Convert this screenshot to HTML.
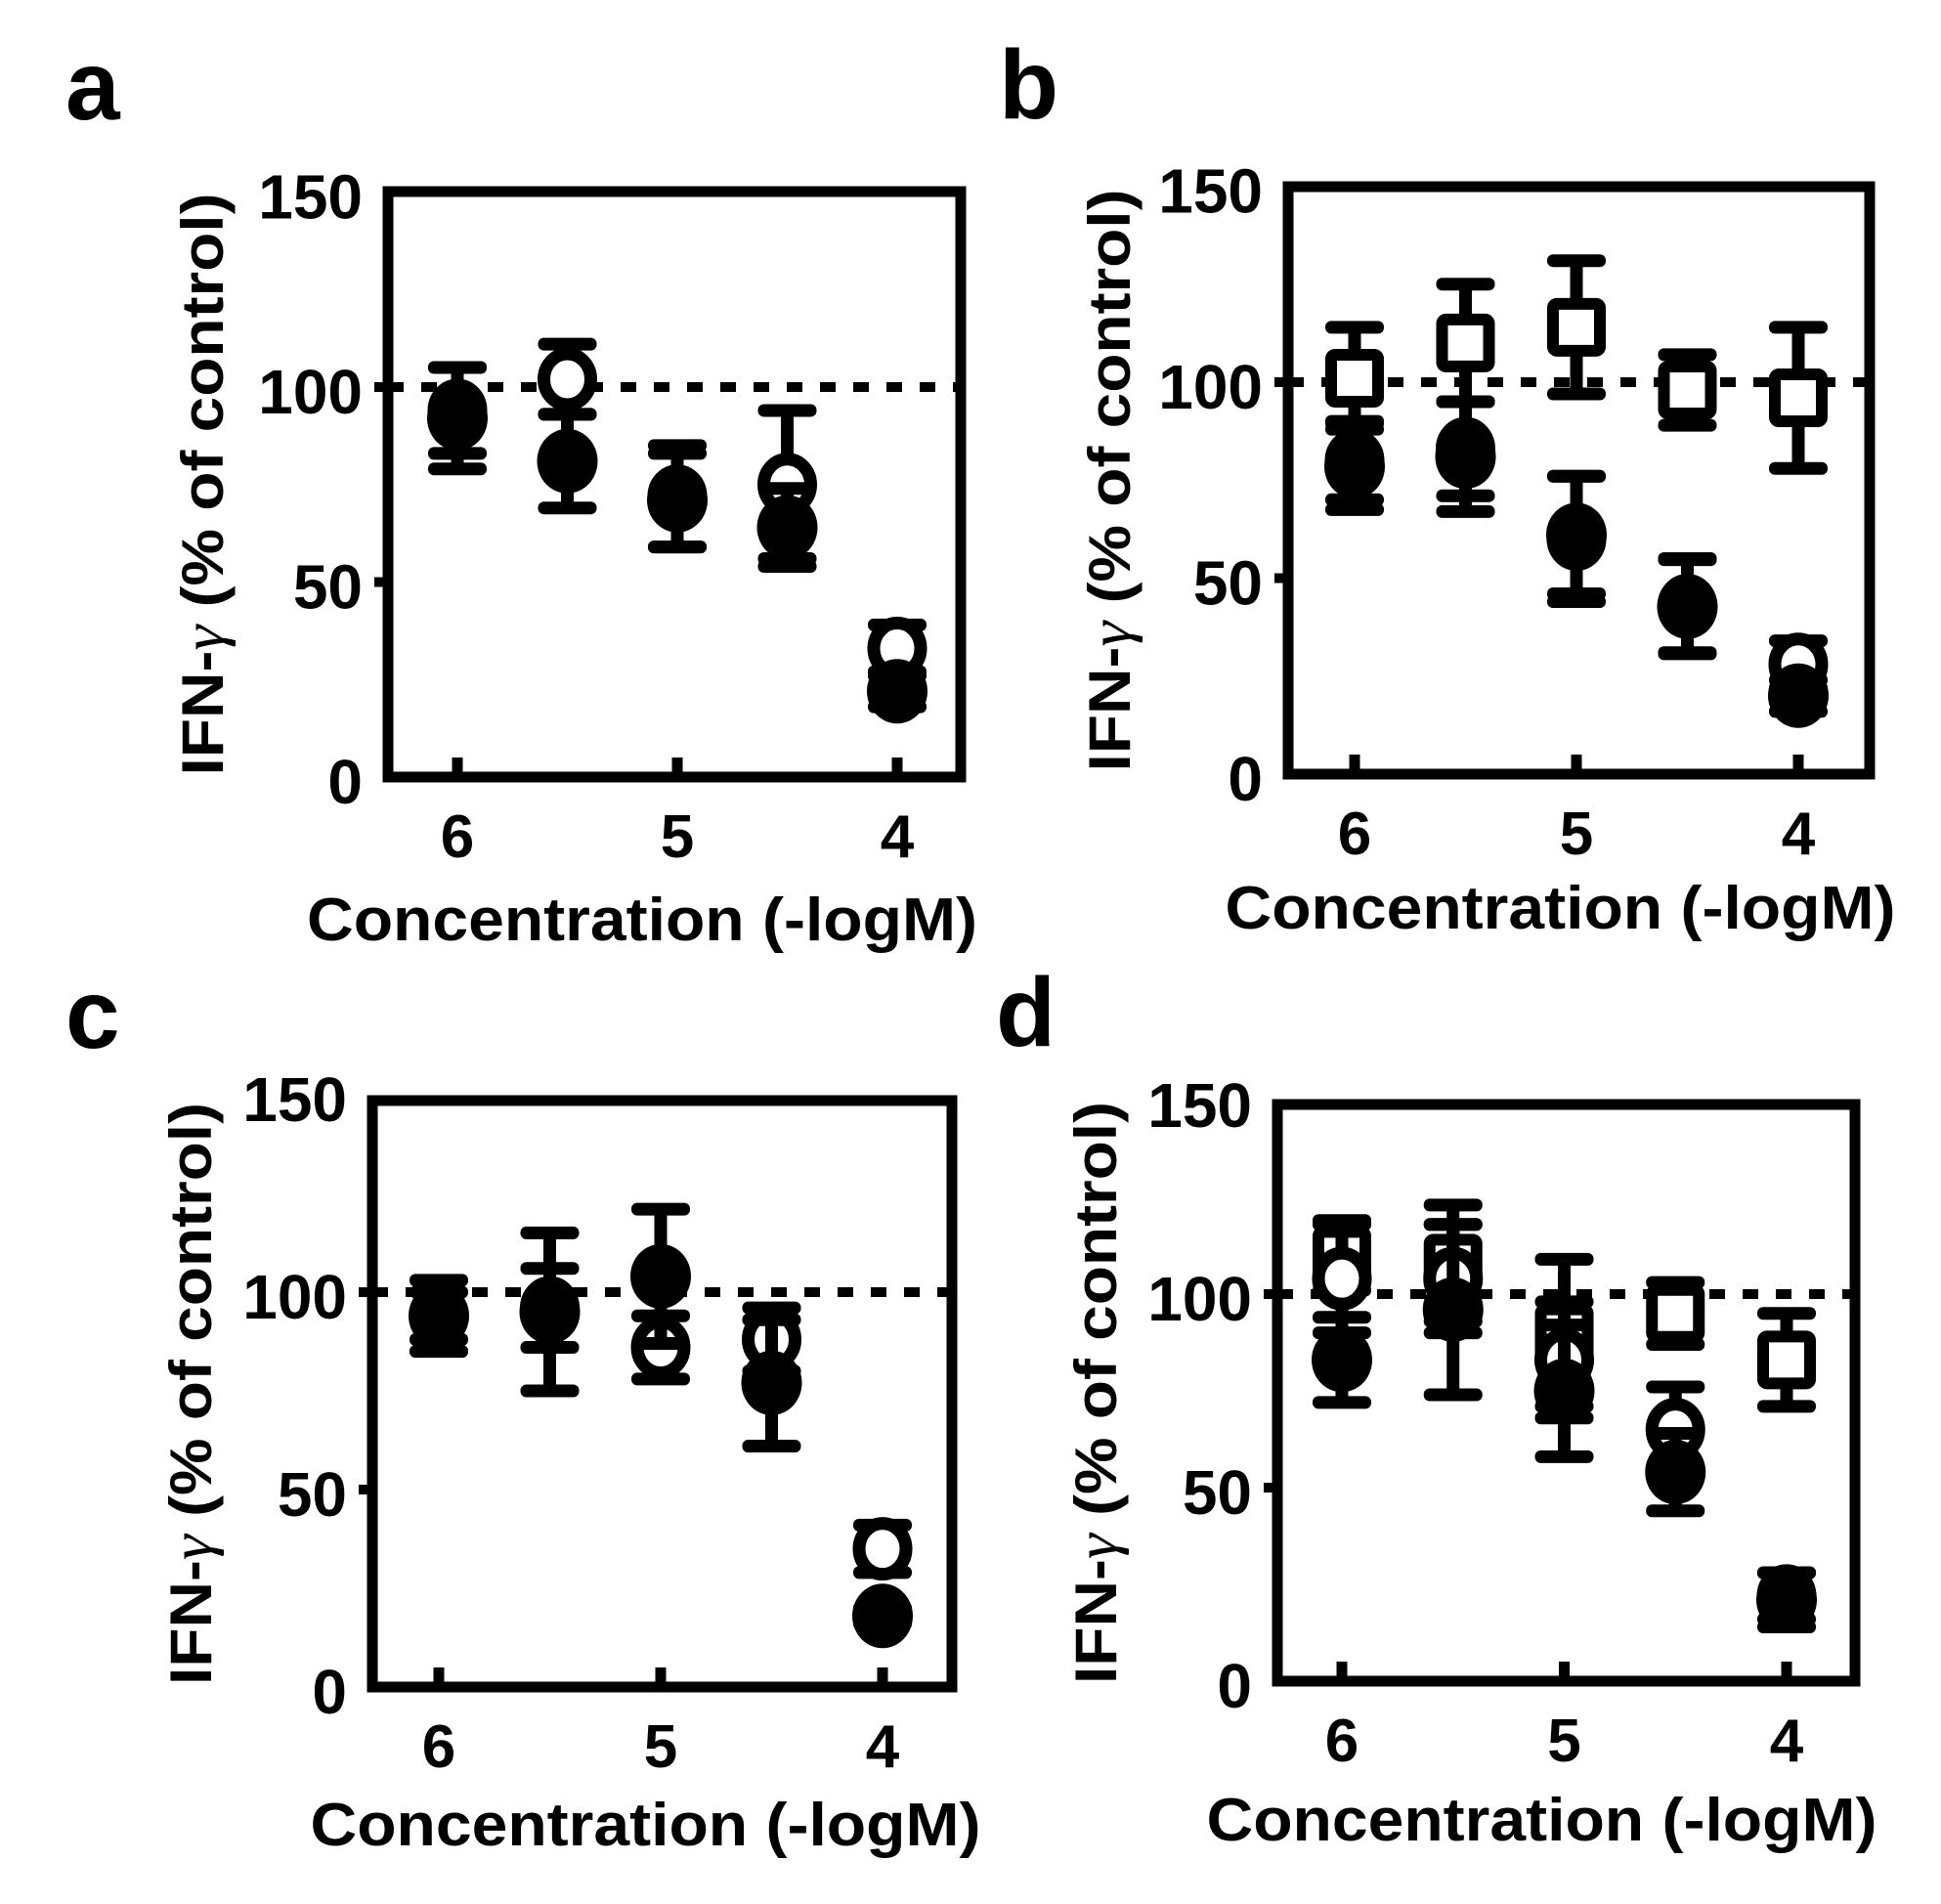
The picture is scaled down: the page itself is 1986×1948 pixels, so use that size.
<!DOCTYPE html>
<html><head><meta charset="utf-8"><style>
html,body{margin:0;padding:0;background:#fff;}
svg{display:block;}
text{font-family:"Liberation Sans",sans-serif;font-weight:bold;fill:#000;}
</style></head><body>
<svg id="fig" width="1986" height="1948" viewBox="0 0 1986 1948" xmlns="http://www.w3.org/2000/svg"></svg>
<script>
const xCats = [6, 5.5, 5, 4.5, 4];
const xTickVals = [6, 5, 4];
const xTickLabels = ["6", "5", "4"];
const yTickVals = [0, 50, 100, 150];
const yTickLabels = ["0", "50", "100", "150"];
const refLine = 100;

const aOpenMean = [94, 102, 72, 75, 33];
const aOpenErr = [11, 9, 13, 19, 6];
const aFilledMean = [92, 81, 71, 64, 22];
const aFilledErr = [13, 12, 12, 10, 4];

const bSquareMean = [101, 110, 114, 98, 96];
const bSquareErr = [13, 15, 17, 9, 18];
const bOpenMean = [80, 83, 60, 43, 28];
const bOpenErr = [10, 12, 16, 12, 6];
const bFilledMean = [78.5, 81, 61, 42.7, 20];
const bFilledErr = [11, 14, 15, 12, 4];

const cOpenMean = [94, 96, 86, 88, 35];
const cOpenErr = [6, 10, 8, 8, 6];
const cFilledMean = [94, 95, 104, 77, 18];
const cFilledErr = [9, 20, 17, 16, 2];

const dSquareMean = [110, 108, 90, 95, 83];
const dSquareErr = [9, 15, 19, 8, 12];
const dOpenMean = [104, 104, 83, 65, 22];
const dOpenErr = [14, 14, 15, 11, 6];
const dFilledMean = [83, 96, 75, 54, 21];
const dFilledErr = [11, 22, 17, 10, 7];

const NS = "http://www.w3.org/2000/svg";
const svg = document.getElementById('fig');
function mk(tag, attrs, parent){
  const e = document.createElementNS(NS, tag);
  for (const k in attrs) e.setAttribute(k, attrs[k]);
  (parent||svg).appendChild(e);
  return e;
}

const panels = [
  {id:'a', L:397, T:196, R:983, y0:795, k:3.99, x6:468, dx:225, lx:67, ly:122, tdx:-33, tdy:167, ydx:-189,
   series:[['open', aOpenMean, aOpenErr], ['filled', aFilledMean, aFilledErr]]},
  {id:'b', L:1318, T:191, R:1913, y0:792, k:4.01, x6:1386, dx:227, lx:1022, ly:121, tdx:-19, tdy:158, ydx:-182,
   series:[['square', bSquareMean, bSquareErr], ['open', bOpenMean, bOpenErr], ['filled', bFilledMean, bFilledErr]]},
  {id:'c', L:381, T:1126, R:974, y0:1726, k:4.04, x6:449, dx:227, lx:67, ly:1072, tdx:-17, tdy:162, ydx:-185,
   series:[['open', cOpenMean, cOpenErr], ['filled', cFilledMean, cFilledErr]]},
  {id:'d', L:1307, T:1130, R:1898, y0:1720, k:3.96, x6:1373, dx:227.5, lx:1019, ly:1070, tdx:-25, tdy:163, ydx:-185,
   series:[['square', dSquareMean, dSquareErr], ['open', dOpenMean, dOpenErr], ['filled', dFilledMean, dFilledErr]]}
];

panels.forEach(p => {
  const g = mk('g', {});
  
  
  const X = v => p.x6 + (6 - v) * p.dx;
  const Y = v => p.y0 - v * p.k;
  const B = p.y0;

  const lab = mk('text', {x:p.lx, y:p.ly, 'font-size':100}, g);
  
  
  lab.textContent = p.id;

  const ref = mk('line', {x1:p.L, x2:p.R, y1:Y(refLine), y2:Y(refLine), stroke:'#000', 'stroke-width':10, 'stroke-dasharray':'16 18'}, g);
  
  

  const fr = mk('rect', {x:p.L, y:p.T, width:p.R-p.L, height:B-p.T, fill:'none', stroke:'#000', 'stroke-width':11}, g);
  
  

  yTickVals.forEach((v, i) => {
    if (v > 0 && v < 150) {
      const t = mk('line', {x1:p.L-14, x2:p.L, y1:Y(v), y2:Y(v), stroke:'#000', 'stroke-width':10}, g);
      
      
    }
    const tl = mk('text', {x:p.L-26, y:Y(v)+27, 'font-size':64, 'text-anchor':'end'}, g);
    
    
    tl.textContent = yTickLabels[i];
  });
  xTickVals.forEach((v, i) => {
    const t = mk('line', {x1:X(v), x2:X(v), y1:B, y2:B-20, stroke:'#000', 'stroke-width':11}, g);
    
    
    const tl = mk('text', {x:X(v), y:B+82, 'font-size':62, 'text-anchor':'middle'}, g);
    
    
    tl.textContent = xTickLabels[i];
  });
  const xt = mk('text', {x:(p.L+p.R)/2+p.tdx, y:B+p.tdy, 'font-size':62, 'text-anchor':'middle', textLength:686, lengthAdjust:'spacingAndGlyphs'}, g);
  
  
  xt.textContent = 'Concentration (-logM)';
  const cy = (p.T+B)/2, cx = p.L + p.ydx;
  const yt = mk('text', {x:cx, y:cy, 'font-size':60, 'text-anchor':'middle', transform:'rotate(-90 '+cx+' '+cy+')', textLength:596, lengthAdjust:'spacingAndGlyphs', dy:20}, g);
  
  
  const t1 = mk('tspan', {}, yt); t1.textContent = 'IFN-';
  const t2 = mk('tspan', {'font-family':'Liberation Serif, serif', 'font-weight':'normal', 'font-style':'italic'}, yt); t2.textContent = 'γ';
  const t3 = mk('tspan', {}, yt); t3.textContent = ' (% of control)';

  p.series.forEach(([kind, means, errs]) => {
    const sg = mk('g', {}, g);
    
    
    means.forEach((m, i) => {
      const x = X(xCats[i]);
      const yt = Y(m + errs[i]), yb = Y(m - errs[i]), ym = Y(m);
      const st = mk('line', {x1:x, x2:x, y1:yt, y2:yb, stroke:'#000', 'stroke-width':13}, sg);
      
      
      [yt, yb].forEach(yy => {
        const c = mk('rect', {x:x-30, y:yy-6.5, width:60, height:13, rx:6, fill:'#000'}, sg);
        
        
      });
      let mkEl;
      if (kind === 'filled') mkEl = mk('ellipse', {cx:x, cy:ym, rx:31, ry:33, fill:'#000'}, sg);
      else if (kind === 'open') mkEl = mk('ellipse', {cx:x, cy:ym, rx:24, ry:26, fill:'#fff', stroke:'#000', 'stroke-width':13}, sg);
      else mkEl = mk('rect', {x:x-24, y:ym-24, width:48, height:48, rx:4, fill:'#fff', stroke:'#000', 'stroke-width':12}, sg);
      
      
    });
  });
});
</script>
</body></html>
